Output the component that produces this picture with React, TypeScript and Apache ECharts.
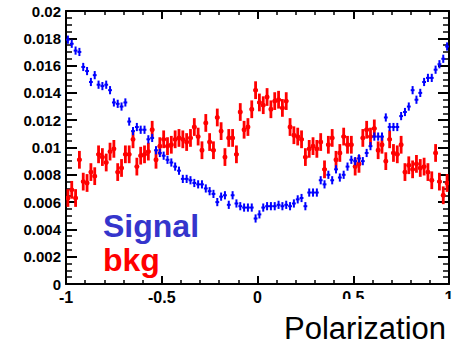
import React, { useEffect, useRef } from "react";
import * as echarts from "echarts";

// Histogram binning along the polarization axis
const BIN_LOW = -1;
const BIN_WIDTH = 0.02;

// Normalised bin contents, 100 bins from -1 to 1
const signal = [
  0.0179, 0.0176, 0.0171, 0.017, 0.0159, 0.0156, 0.0148, 0.0153, 0.0146, 0.0145,
  0.0146, 0.0142, 0.0133, 0.0132, 0.013, 0.0133, 0.0119, 0.0112, 0.0115, 0.0113,
  0.0113, 0.0106, 0.0107, 0.0098, 0.0096, 0.0094, 0.0091, 0.0089, 0.0086, 0.0083,
  0.0077, 0.0077, 0.0076, 0.0074, 0.0073, 0.0073, 0.007, 0.0068, 0.0066, 0.006,
  0.0064, 0.0065, 0.0058, 0.0065, 0.0059, 0.0057, 0.0056, 0.0056, 0.0056, 0.0048,
  0.0051, 0.0056, 0.0057, 0.0057, 0.0057, 0.0058, 0.0057, 0.0058, 0.0057, 0.0059,
  0.0062, 0.0063, 0.0057, 0.0067, 0.0067, 0.0067, 0.0076, 0.0073, 0.008, 0.0076,
  0.0084, 0.0078, 0.008, 0.0086, 0.0091, 0.009, 0.0092, 0.009, 0.0096, 0.0101,
  0.0108, 0.0108, 0.0108, 0.0122, 0.0115, 0.0115, 0.0115, 0.0123, 0.0126, 0.013,
  0.0142, 0.0135, 0.014, 0.0148, 0.0151, 0.0151, 0.0157, 0.0161, 0.0165, 0.0174,
];

const bkg = [
  0.0063, 0.0069, 0.0063, 0.0091, 0.0075, 0.0074, 0.0082, 0.0079, 0.0095, 0.0093,
  0.0089, 0.0097, 0.0099, 0.0082, 0.0085, 0.0095, 0.0095, 0.0106, 0.0086, 0.0094,
  0.0095, 0.0097, 0.0113, 0.0091, 0.0101, 0.0106, 0.0101, 0.0102, 0.0106, 0.0107,
  0.0106, 0.0104, 0.0107, 0.0115, 0.0108, 0.0098, 0.0118, 0.0104, 0.0098, 0.0122,
  0.0112, 0.0093, 0.0107, 0.0107, 0.0095, 0.0126, 0.0113, 0.0115, 0.0128, 0.0142,
  0.0133, 0.0131, 0.0137, 0.0128, 0.0134, 0.0135, 0.0129, 0.0134, 0.0115, 0.0109,
  0.0108, 0.0106, 0.0093, 0.0099, 0.0101, 0.0099, 0.0104, 0.0084, 0.0102, 0.0107,
  0.0091, 0.0096, 0.0108, 0.0102, 0.0102, 0.0086, 0.0088, 0.0107, 0.0113, 0.0108,
  0.0114, 0.0098, 0.0102, 0.009, 0.0106, 0.0096, 0.0095, 0.0102, 0.0082, 0.0087,
  0.0084, 0.0088, 0.0085, 0.0086, 0.0082, 0.0076, 0.0096, 0.0075, 0.0065, 0.0074,
];

// Statistical uncertainty per bin
const SIGNAL_ERR = 0.0003;
const BKG_ERR = 0.00065;

const X_TICKS = [-1, -0.5, 0, 0.5, 1];
const Y_TICKS = [0, 0.002, 0.004, 0.006, 0.008, 0.01, 0.012, 0.014, 0.016, 0.018, 0.02];

const FONT = "'Liberation Sans', Arial, Helvetica, sans-serif";

function toPoints(values: number[], err: number) {
  return values.map((v, i) => [BIN_LOW + BIN_WIDTH * (i + 0.5), v, err]);
}

function errorBarRenderer(color: string, width: number, markerRadius: number) {
  return (params: any, api: any) => {
    const x = api.value(0);
    const y = api.value(1);
    const e = api.value(2);
    const left = api.coord([x - BIN_WIDTH / 2, y]);
    const right = api.coord([x + BIN_WIDTH / 2, y]);
    const top = api.coord([x, y + e]);
    const bottom = api.coord([x, y - e]);
    const style = { stroke: color, lineWidth: width, fill: null };
    const children: any[] = [
      { type: "line", shape: { x1: left[0], y1: left[1], x2: right[0], y2: right[1] }, style },
      { type: "line", shape: { x1: top[0], y1: top[1], x2: bottom[0], y2: bottom[1] }, style },
    ];
    if (markerRadius > 0) {
      children.push({
        type: "circle",
        shape: { cx: left[0] + (right[0] - left[0]) / 2, cy: left[1], r: markerRadius },
        style: { fill: color, stroke: null },
      });
    }
    return { type: "group", children };
  };
}

const axisLine = { show: true, onZero: false, lineStyle: { color: "#000", width: 2 } };

function xAxis(position: "bottom" | "top", labels: boolean) {
  return {
    type: "value",
    position,
    min: X_TICKS[0],
    max: X_TICKS[X_TICKS.length - 1],
    interval: 0.5,
    axisLine,
    axisTick: { show: true, inside: true, length: 8, lineStyle: { color: "#000", width: 2 } },
    minorTick: { show: true, splitNumber: 5, length: 4, lineStyle: { color: "#000", width: 1.5 } },
    splitLine: { show: false },
    axisLabel: {
      show: labels,
      color: "#000",
      fontFamily: FONT,
      fontWeight: "bold",
      fontSize: 16,
      margin: 5,
      formatter: (v: number) => String(+v.toFixed(2)),
    },
  };
}

function yAxis(position: "left" | "right", labels: boolean) {
  return {
    type: "value",
    position,
    min: Y_TICKS[0],
    max: Y_TICKS[Y_TICKS.length - 1],
    interval: 0.002,
    axisLine,
    axisTick: { show: true, inside: true, length: 11, lineStyle: { color: "#000", width: 2 } },
    minorTick: { show: true, splitNumber: 4, length: 6, lineStyle: { color: "#000", width: 1.5 } },
    splitLine: { show: false },
    axisLabel: {
      show: labels,
      color: "#000",
      fontFamily: FONT,
      fontWeight: "bold",
      fontSize: 15,
      margin: 5,
      formatter: (v: number) => String(+v.toFixed(3)),
    },
  };
}

export default function App() {
  const ref = useRef<HTMLDivElement>(null);

  useEffect(() => {
    if (!ref.current) return;
    const chart = echarts.init(ref.current, null, { renderer: "svg" });
    chart.setOption({
      animation: false,
      backgroundColor: "#fff",
      grid: { left: 66, right: 17, top: 11, bottom: 61 },
      xAxis: [xAxis("bottom", true), xAxis("top", false)],
      yAxis: [yAxis("left", true), yAxis("right", false)],
      series: [
        {
          name: "bkg",
          type: "custom",
          xAxisIndex: 0,
          yAxisIndex: 0,
          renderItem: errorBarRenderer("#ff0000", 2.8, 2.5),
          data: toPoints(bkg, BKG_ERR),
          clip: true,
        },
        {
          name: "Signal",
          type: "custom",
          xAxisIndex: 0,
          yAxisIndex: 0,
          renderItem: errorBarRenderer("#0000ff", 2, 0),
          data: toPoints(signal, SIGNAL_ERR),
          clip: true,
        },
      ],
      graphic: [
        { type: "rect", z: 50, shape: { x: 0, y: 304, width: 330, height: 41 }, style: { fill: "#fff" } },
        { type: "rect", z: 50, shape: { x: 330, y: 299, width: 136, height: 46 }, style: { fill: "#fff" } },
        {
          type: "text",
          z: 60,
          x: 446,
          y: 328,
          style: {
            text: "Polarization",
            fill: "#000",
            font: `31px ${FONT}`,
            align: "right",
            verticalAlign: "middle",
          },
        },
        {
          type: "text",
          z: 60,
          x: 103,
          y: 226,
          style: {
            text: "Signal",
            fill: "#3535cc",
            font: `bold 32px ${FONT}`,
            align: "left",
            verticalAlign: "middle",
          },
        },
        {
          type: "text",
          z: 60,
          x: 103,
          y: 260,
          style: {
            text: "bkg",
            fill: "#ff0000",
            font: `bold 32px ${FONT}`,
            align: "left",
            verticalAlign: "middle",
          },
        },
      ],
    });
    return () => chart.dispose();
  }, []);

  return (
    <div
      ref={ref}
      style={{ position: "fixed", left: 0, top: 0, width: 466, height: 345, background: "#fff" }}
    />
  );
}
